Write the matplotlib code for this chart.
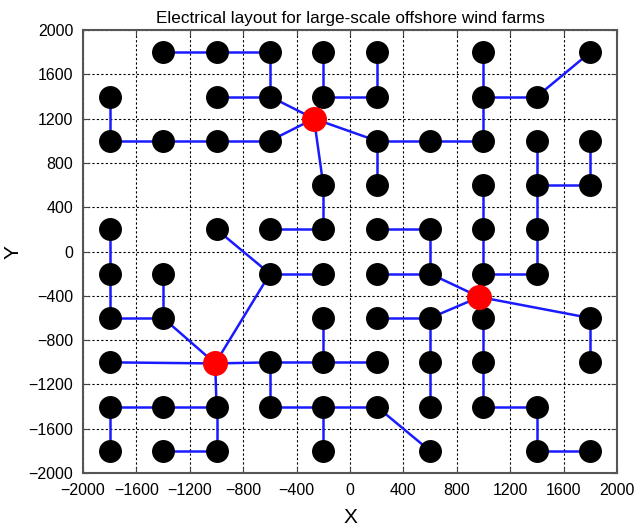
import matplotlib
matplotlib.use("Agg")
import matplotlib.pyplot as plt

plt.rcParams['font.family'] = ['Liberation Sans', 'DejaVu Sans']

# turbine rows (y) and the x positions of turbines in each row
row_y = [1800, 1400, 1000, 600, 200, -200, -600, -1000, -1400, -1800]
row_x = [
    [-1400, -1000, -600, -200, 200, 1000, 1800],
    [-1800, -1000, -600, -200, 200, 1000, 1400],
    [-1800, -1400, -1000, -600, 200, 600, 1000, 1400, 1800],
    [-200, 200, 1000, 1400, 1800],
    [-1800, -1000, -600, -200, 200, 600, 1000, 1400],
    [-1800, -1400, -600, -200, 200, 600, 1000, 1400],
    [-1800, -1400, -200, 200, 600, 1000, 1800],
    [-1800, -600, -200, 200, 600, 1000, 1800],
    [-1800, -1400, -1000, -600, -200, 200, 600, 1000, 1400],
    [-1800, -1400, -1000, -200, 600, 1400, 1800],
]

# offshore substations
sub_x = [-270, 970, -1010]
sub_y = [1200, -410, -1010]
S1 = (sub_x[0], sub_y[0])
S2 = (sub_x[1], sub_y[1])
S3 = (sub_x[2], sub_y[2])

# cable segments (from, to)
cables = [
    # substation 1
    ((-1400, 1800), (-1000, 1800)), ((-1000, 1800), (-600, 1800)),
    ((-600, 1800), (-600, 1400)), ((-1000, 1400), (-600, 1400)),
    ((-600, 1400), S1), ((-200, 1800), (-200, 1400)),
    ((-200, 1400), (200, 1400)), ((200, 1800), (200, 1400)),
    ((-200, 1400), S1), ((-1800, 1400), (-1800, 1000)),
    ((-1800, 1000), (-1400, 1000)), ((-1400, 1000), (-1000, 1000)),
    ((-1000, 1000), (-600, 1000)), ((-600, 1000), S1),
    (S1, (200, 1000)), ((200, 1000), (600, 1000)),
    ((600, 1000), (1000, 1000)), ((1000, 1000), (1000, 1400)),
    ((1000, 1400), (1000, 1800)), ((1000, 1400), (1400, 1400)),
    ((1400, 1400), (1800, 1800)), ((200, 1000), (200, 600)),
    (S1, (-200, 600)), ((-200, 600), (-200, 200)),
    ((-600, 200), (-200, 200)),
    # substation 2
    ((1400, 1000), (1400, 600)), ((1400, 600), (1800, 600)),
    ((1800, 1000), (1800, 600)), ((1400, 600), (1400, 200)),
    ((1400, 200), (1400, -200)), ((1000, -200), (1400, -200)),
    ((1000, 600), (1000, 200)), ((1000, 200), (1000, -200)),
    ((1000, -200), S2), ((200, 200), (600, 200)),
    ((600, 200), (600, -200)), ((200, -200), (600, -200)),
    ((600, -200), S2), (S2, (600, -600)), ((200, -600), (600, -600)),
    ((600, -600), (600, -1000)), ((600, -1000), (600, -1400)),
    (S2, (1000, -600)), ((1000, -600), (1000, -1000)),
    ((1000, -1000), (1000, -1400)), ((1000, -1400), (1400, -1400)),
    ((1400, -1400), (1400, -1800)), ((1400, -1800), (1800, -1800)),
    (S2, (1800, -600)), ((1800, -600), (1800, -1000)),
    # substation 3
    ((-1800, 200), (-1800, -200)), ((-1800, -200), (-1800, -600)),
    ((-1800, -600), (-1400, -600)), ((-1400, -200), (-1400, -600)),
    ((-1400, -600), S3), ((-1000, 200), (-600, -200)),
    ((-600, -200), (-200, -200)), ((-600, -200), S3),
    ((-1800, -1000), S3), (S3, (-600, -1000)),
    ((-600, -1000), (-200, -1000)), ((-200, -1000), (200, -1000)),
    ((-200, -600), (-200, -1000)), ((-600, -1000), (-600, -1400)),
    ((-600, -1400), (-200, -1400)), ((-200, -1400), (200, -1400)),
    ((200, -1400), (600, -1800)), ((-200, -1400), (-200, -1800)),
    (S3, (-1000, -1400)), ((-1800, -1400), (-1400, -1400)),
    ((-1400, -1400), (-1000, -1400)), ((-1800, -1400), (-1800, -1800)),
    ((-1000, -1400), (-1000, -1800)), ((-1400, -1800), (-1000, -1800)),
]

ticks = [-2000, -1600, -1200, -800, -400, 0, 400, 800, 1200, 1600, 2000]

fig = plt.figure(figsize=(6.44, 5.28), dpi=100)
ax = fig.add_axes([0.129, 0.104, 0.829, 0.839])

for (a, b) in cables:
    ax.plot([a[0], b[0]], [a[1], b[1]], color='#1a1aff', lw=1.8, zorder=2)

tx = [x for xs in row_x for x in xs]
ty = [y for y, xs in zip(row_y, row_x) for _ in xs]
ax.plot(tx, ty, 'o', color='black', markersize=15.5, zorder=3)
ax.plot(sub_x, sub_y, 'o', color='red', markersize=17, zorder=4)

ax.set_xlim(-2000, 2000)
ax.set_ylim(-2000, 2000)
ax.set_xticks(ticks)
ax.set_yticks(ticks)
ax.tick_params(direction='in', top=True, right=True, length=4, labelsize=11.5,
               color='#444444')
ax.tick_params(axis='x', pad=7)
ax.tick_params(axis='y', pad=7)
ax.grid(True, color='black', linestyle=(0, (2, 2)), lw=0.8)
for s in ax.spines.values():
    s.set_color('#555555')
    s.set_linewidth(1.5)

ax.set_title('Electrical layout for large-scale offshore wind farms', fontsize=12.3, pad=5)
ax.set_xlabel('X', fontsize=15, labelpad=7)
ax.set_ylabel('Y', fontsize=15, labelpad=4)

fig.savefig('out.png', dpi=100)
